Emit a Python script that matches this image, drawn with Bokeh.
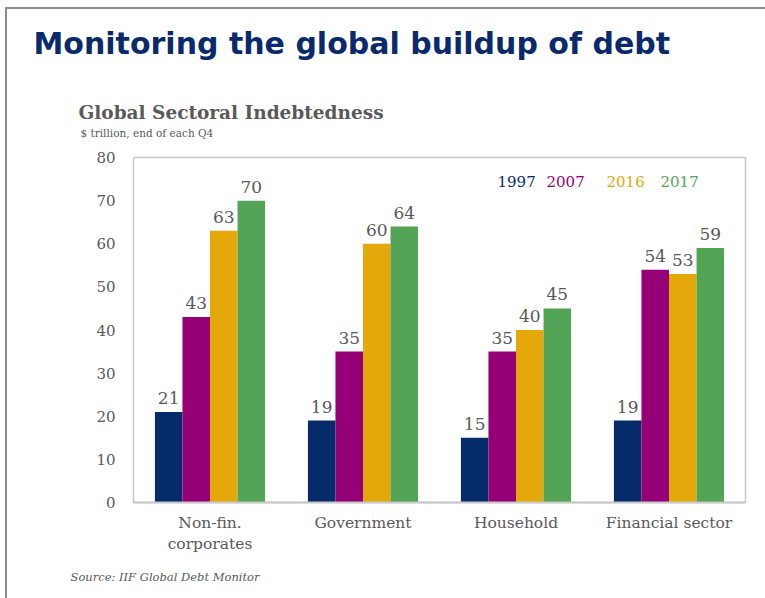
from bokeh.plotting import figure
from bokeh.models import Label, Title, FactorRange, ColumnDataSource, Range1d, FixedTicker, InlineStyleSheet
from bokeh.transform import dodge
from bokeh.core.properties import value
from bokeh.embed import file_html
from bokeh.resources import INLINE

categories = ["Non-fin.\ncorporates", "Government", "Household", "Financial sector"]
years = ["1997", "2007", "2016", "2017"]
v1997 = [21, 19, 15, 19]
v2007 = [43, 35, 35, 54]
v2016 = [63, 60, 40, 53]
v2017 = [70, 64, 45, 59]
series = [v1997, v2007, v2016, v2017]
colors = ["#062b6b", "#950077", "#e5a80b", "#53a456"]
y_ticks = [0, 10, 20, 30, 40, 50, 60, 70, 80]

SERIF = "DejaVu Serif"
GRAY = "#595959"
FL, FB = 133, 502  # frame left / bottom in canvas pixels


def sx(cx):
    return cx - FL


def sy(cy):
    return FB - cy


p = figure(width=765, height=598, x_range=FactorRange(*categories), y_range=Range1d(0, 80),
           output_backend="svg", toolbar_location=None, title=None,
           min_border_left=133, min_border_right=20, min_border_top=157, min_border_bottom=96)

offsets = [-0.27, -0.09, 0.09, 0.27]
src = ColumnDataSource(dict(cat=categories, **{y: s for y, s in zip(years, series)},
                            **{"t" + y: [str(v) for v in s] for y, s in zip(years, series)}))
for yr, off, col in zip(years, offsets, colors):
    p.vbar(x=dodge("cat", off, range=p.x_range), top=yr, width=0.18, source=src,
           fill_color=col, line_color=None)
    p.text(x=dodge("cat", off, range=p.x_range), y=yr, text="t" + yr, source=src,
           text_align="center", text_baseline="bottom", y_offset=-8,
           text_font=value(SERIF), text_font_size="17px", text_color=GRAY)

p.xgrid.visible = False
p.ygrid.visible = False
p.outline_line_color = "#c8c8c8"
p.outline_line_width = 1.5

p.yaxis.ticker = FixedTicker(ticks=y_ticks)
p.yaxis.axis_line_color = None
p.yaxis.major_tick_line_color = None
p.yaxis.minor_tick_line_color = None
p.yaxis.major_label_standoff = 12
p.yaxis.major_label_text_font = SERIF
p.yaxis.major_label_text_font_size = "15px"
p.yaxis.major_label_text_color = GRAY

p.xaxis.axis_line_color = "#c8c8c8"
p.xaxis.axis_line_width = 2
p.xaxis.major_tick_line_color = None
p.xaxis.minor_tick_line_color = None
p.xaxis.major_label_standoff = 5
p.xaxis.major_label_text_font = SERIF
p.xaxis.major_label_text_font_size = "15.5px"
p.xaxis.major_label_text_color = GRAY


def spacer(gap):
    return Title(text=" ", text_font_size="1px", standoff=gap, align="left")


# titles stacked above the frame (first added = closest to the frame)
p.add_layout(spacer(15.5), "above")
p.add_layout(Title(text="$ trillion, end of each Q4", text_font=SERIF, text_font_size="10.5px",
                   text_font_style="normal", text_color=GRAY, align="left", offset=sx(80),
                   standoff=0), "above")
p.add_layout(Title(text="Global Sectoral Indebtedness", text_font=SERIF, text_font_size="18.5px",
                   text_font_style="bold", text_color=GRAY, align="left", offset=sx(78),
                   standoff=3.2), "above")
p.add_layout(spacer(35), "above")
p.add_layout(Title(text="Monitoring the global buildup of debt", text_font="DejaVu Sans",
                   text_font_size="30px", text_font_style="bold", text_color="#0a2a6b",
                   align="left", offset=sx(33), standoff=0), "above")
p.add_layout(Title(text="Source: IIF Global Debt Monitor", text_font=SERIF, text_font_size="11.5px",
                   text_font_style="italic", text_color=GRAY, align="left", offset=sx(70),
                   standoff=22), "below")

legend_x = [497, 546, 606, 660]
for yr, col, lx in zip(years, colors, legend_x):
    p.add_layout(Label(x=sx(lx), y=sy(181), x_units="screen", y_units="screen",
                       text=yr, text_font=SERIF, text_font_size="15px", text_color=col,
                       text_baseline="middle"))

p.stylesheets = [InlineStyleSheet(css=""":host { position: relative; }
:host::after { content: ""; position: absolute; left: 5px; top: 7px; right: -10px; bottom: -10px;
border-top: 2px solid #8a8a8a; border-left: 2px solid #8a8a8a; pointer-events: none; }""")]

open("out.html", "w").write(file_html(p, INLINE))
